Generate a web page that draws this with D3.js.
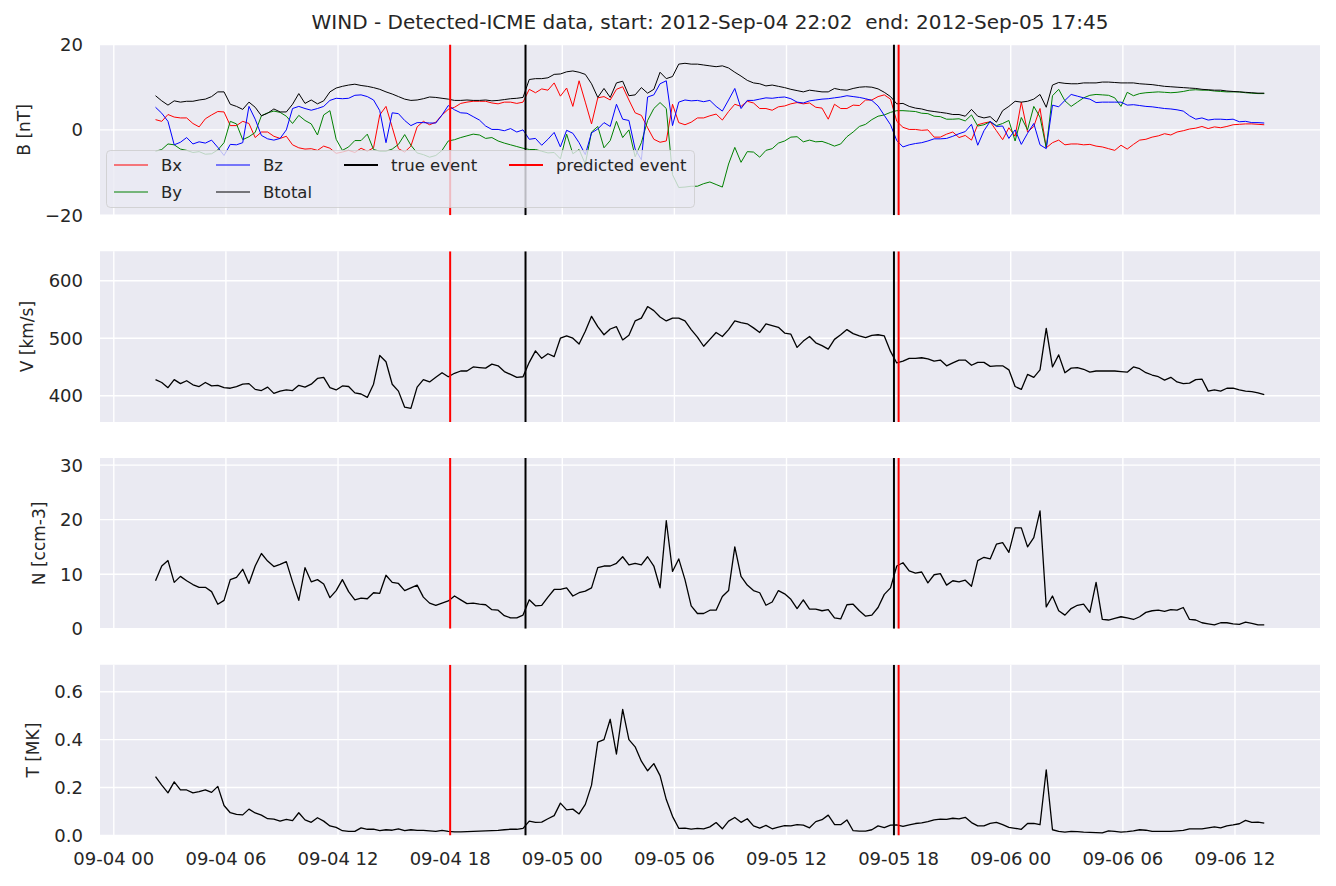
<!DOCTYPE html>
<html><head><meta charset="utf-8">
<script src="https://cdn.jsdelivr.net/npm/d3@7"></script>
<style>
html,body{margin:0;padding:0;background:#fff;}
svg{display:block;font-family:"DejaVu Sans",sans-serif;}
</style></head><body>
<svg id="chart" width="1336" height="886"></svg>
<script>
// ---- data (20-minute samples starting 2012-09-04 02:14 UTC) ----
const startTime = Date.UTC(2012, 8, 4, 2, 14);
const stepMinutes = 20;

const Bx = [2.4,2.0,3.6,3.0,2.8,2.8,1.5,0.7,2.6,3.5,
4.3,4.2,1.0,1.0,2.0,1.5,-1.8,-0.5,-0.5,-1.5,
-2.0,-1.5,-3.5,-4.2,-4.5,-4.4,-4.8,-3.8,-4.3,-5.5,
-5.2,-4.8,-5.3,-4.3,-5.0,-4.2,3.5,5.5,0.6,-4.4,
-5.2,-3.8,0.7,2.0,1.2,1.8,3.5,4.8,5.3,6.2,
6.5,6.7,6.7,6.7,6.3,6.1,6.5,6.5,6.2,6.5,
9.5,8.7,9.6,9.3,11.0,7.9,9.8,5.5,11.5,6.5,
1.4,7.5,7.8,7.0,9.5,10.1,7.0,4.0,3.4,0.5,
-2.2,-2.9,-2.6,6.0,1.7,1.2,1.8,2.8,2.8,3.3,
3.7,2.3,4.3,6.0,5.5,6.7,6.3,5.0,5.0,4.6,
5.4,5.6,6.1,6.4,6.1,6.3,5.3,5.1,2.5,6.0,
5.0,5.0,5.8,5.7,7.0,7.0,7.8,8.2,7.2,2.0,
0.6,0.1,0.1,-0.1,0.0,-1.7,-1.7,-1.0,-0.5,-1.8,
-1.3,-2.4,1.2,1.6,1.9,-0.2,-2.3,0.5,-1.5,6.5,
-0.5,0.8,5.0,-4.2,-3.0,-2.4,-3.5,-3.3,-3.3,-3.5,
-3.4,-3.8,-4.0,-4.4,-4.8,-3.6,-4.5,-3.4,-2.4,-2.2,
-1.7,-1.4,-0.9,-1.2,-0.5,-0.2,0.2,0.4,0.8,0.3,
0.7,0.5,0.8,1.2,1.3,1.4,1.4,1.3,1.2];

const By = [-5.0,-4.6,-3.3,-3.5,-4.5,-4.8,-5.3,-5.1,-5.7,-5.6,
-4.7,-3.0,2.0,1.4,-2.3,-1.6,-0.6,3.3,4.0,4.4,
4.1,3.2,1.5,3.4,2.2,1.4,-1.2,3.5,4.5,-2.2,
-4.8,-4.0,-2.5,-2.5,-1.0,-4.6,-5.0,-5.0,-4.5,-3.4,
-1.1,-3.6,-5.4,-5.8,-6.4,-6.0,-4.8,-2.6,-2.3,-1.8,
-1.4,-1.0,-1.2,-2.0,-1.8,-2.6,-3.1,-3.5,-3.9,-4.3,
-4.6,-4.6,-5.0,-5.4,-5.3,-6.8,-1.0,-5.6,-4.6,-8.0,
-0.5,0.8,-4.2,-2.5,2.0,-1.8,0.0,-6.3,-3.0,2.2,
5.0,6.4,5.0,-10.5,-13.5,-13.4,-13.2,-13.2,-12.6,-12.2,
-12.8,-13.4,-8.0,-4.1,-7.6,-5.1,-5.2,-6.4,-4.8,-4.4,
-3.1,-2.6,-1.7,-1.6,-2.8,-2.4,-2.8,-2.7,-3.2,-3.8,
-3.3,-1.6,-0.5,0.8,1.3,2.4,3.2,3.5,4.1,4.5,
4.5,4.4,4.3,3.9,3.8,3.2,3.1,2.5,2.5,2.6,
2.1,3.5,0.9,1.2,1.9,1.0,1.5,2.2,-2.6,2.9,
0.0,5.5,3.0,-4.2,8.0,9.5,6.8,5.5,6.5,7.5,
8.1,8.3,8.2,8.1,7.5,5.5,8.8,8.0,8.5,8.7,
8.8,8.9,8.8,8.7,8.8,9.0,9.3,9.4,9.3,9.3,
9.1,9.0,8.9,8.9,8.9,8.7,8.6,8.5,8.5];

const Bz = [5.3,3.9,2.0,-3.5,-2.9,-1.8,-3.3,-2.8,-3.1,-2.4,
-4.1,-6.0,-3.4,-3.5,-3.0,5.5,2.5,-1.3,-2.1,-2.4,
-2.0,0.0,5.0,5.5,5.0,4.6,5.0,5.5,6.9,7.4,
7.3,7.4,8.1,8.2,7.8,7.0,4.5,-3.0,4.0,3.8,
2.2,1.0,1.7,1.7,1.6,1.6,3.5,5.7,4.7,4.0,
3.9,3.1,2.3,0.9,0.1,0.1,-0.2,0.3,-0.5,0.0,
-2.2,-2.0,-3.6,-2.2,-0.6,-4.0,-0.1,-0.8,-3.0,-5.8,
-0.7,0.2,1.7,0.8,6.0,2.5,2.2,-4.5,-7.0,7.7,
8.2,10.8,11.5,1.0,6.5,7.0,6.8,6.9,6.6,6.9,
5.5,4.4,7.0,9.7,5.0,6.9,6.9,7.2,7.5,7.4,
7.6,7.7,7.3,6.5,6.3,6.8,7.0,7.2,7.3,7.5,
7.7,8.0,7.8,7.6,7.3,6.9,5.6,3.4,1.2,-2.5,
-4.0,-3.5,-3.2,-3.0,-2.6,-2.1,-2.1,-2.0,-1.5,-0.9,
-0.4,1.3,-3.6,-0.2,2.0,0.8,0.9,-2.0,0.0,-3.4,
-0.8,1.5,-3.5,-4.4,5.8,5.4,6.9,8.3,7.9,7.5,
7.2,6.4,6.5,6.5,6.5,6.5,5.8,5.9,5.7,5.5,
5.4,5.2,5.0,4.9,4.7,4.4,3.3,2.5,2.8,2.3,
2.5,2.5,2.4,2.5,1.9,2.0,1.7,1.7,1.6];

const Btotal = [8.0,6.8,5.8,6.8,6.5,6.7,6.7,7.0,7.2,7.8,
8.9,8.9,6.0,5.5,4.8,6.5,5.3,3.3,3.9,4.9,
4.2,4.2,6.0,8.5,6.2,7.0,6.1,6.8,8.9,9.8,
10.2,10.5,10.7,10.4,10.2,9.9,9.5,8.9,8.4,7.8,
7.2,6.9,7.0,7.3,7.7,7.6,7.4,7.2,6.9,6.9,
7.0,6.9,6.9,7.0,6.8,6.9,7.1,7.3,7.4,7.6,
11.8,12.0,12.0,12.2,13.0,13.1,13.6,13.8,13.5,13.0,
10.8,7.6,9.7,7.6,11.0,11.4,8.0,8.2,9.9,8.6,
9.5,13.5,12.0,12.5,15.4,15.6,15.4,15.4,15.2,15.0,
14.8,15.0,14.5,13.5,12.6,11.6,11.0,10.8,10.3,10.5,
10.2,9.9,9.5,9.2,8.9,9.3,9.1,8.9,8.9,9.7,
9.4,9.3,9.7,10.0,10.1,10.0,9.6,8.8,7.8,6.1,
6.2,5.5,5.1,4.9,4.5,4.3,4.1,3.9,3.6,3.6,
3.2,4.8,3.2,2.8,3.1,1.8,4.5,5.5,6.7,6.5,
6.7,7.2,8.3,5.3,10.5,11.1,10.9,10.8,10.8,11.0,
11.0,11.0,11.2,11.2,11.1,11.0,11.0,11.0,10.8,10.7,
10.6,10.4,10.2,10.1,10.0,9.9,9.8,9.7,9.5,9.4,
9.3,9.3,9.1,9.0,8.9,8.8,8.7,8.6,8.6];

const V = [428,423,414,428,421,426,419,416,423,417,
418,414,413,416,420,421,411,409,415,404,
408,410,409,418,415,420,430,432,414,410,
417,416,405,403,397,420,470,459,420,408,
380,378,415,428,424,432,440,433,439,443,
443,450,449,448,455,452,442,437,432,433,
458,478,465,473,468,500,504,500,490,512,
538,520,506,516,520,497,505,530,535,555,
548,537,530,535,535,530,515,502,486,498,
510,503,515,530,527,525,518,510,525,522,
519,509,507,484,495,503,492,487,481,498,
506,515,508,504,501,505,506,504,477,457,
460,465,465,466,464,460,462,452,457,462,
462,453,458,458,451,452,452,445,416,411,
437,432,445,517,450,471,440,448,449,446,
441,443,443,443,443,442,441,450,447,440,
436,433,427,432,424,421,422,428,429,408,
410,408,413,413,410,408,407,405,402];

const N = [8.8,11.5,12.5,8.5,9.6,8.8,8.1,7.6,7.6,6.8,
4.5,5.2,9.0,9.4,10.9,8.3,11.5,13.8,12.4,11.4,
11.8,12.3,8.6,5.2,11.2,8.6,9.0,8.2,5.7,7.0,
9.0,6.8,5.3,5.6,5.5,6.6,6.5,9.8,8.5,8.3,
7.0,7.5,8.0,5.8,4.7,4.3,4.7,5.1,6.0,5.3,
4.6,4.7,4.5,4.4,3.5,3.4,2.4,2.0,2.0,2.5,
5.3,4.2,4.3,5.8,7.2,7.2,7.5,6.0,6.6,6.9,
7.5,11.2,11.5,11.5,12.0,13.2,11.7,12.0,11.7,13.2,
11.5,7.5,19.8,10.5,12.8,9.0,4.2,2.8,2.8,3.4,
3.4,5.9,7.0,15.0,9.6,8.0,7.0,6.6,4.3,4.9,
7.0,6.4,5.4,3.7,5.3,3.6,3.6,3.3,3.5,2.0,
1.8,4.4,4.5,3.3,2.3,2.5,3.9,6.3,7.5,11.5,
12.1,10.6,10.2,10.4,8.4,9.9,10.1,8.0,8.8,8.6,
8.9,7.8,12.5,13.1,12.8,15.5,15.8,14.0,18.5,18.5,
15.0,16.7,21.6,4.0,6.0,3.3,2.5,3.7,4.3,4.5,
3.0,8.5,1.7,1.6,1.9,2.2,2.0,1.7,2.2,3.0,
3.3,3.4,3.2,3.5,3.4,3.9,1.7,1.6,1.1,0.9,
0.7,1.1,1.1,0.9,0.8,1.2,1.0,0.7,0.7];

const T = [0.246,0.21,0.178,0.224,0.19,0.19,0.178,0.183,0.19,0.18,
0.205,0.125,0.095,0.088,0.086,0.11,0.094,0.085,0.07,0.068,
0.06,0.067,0.062,0.095,0.065,0.055,0.074,0.06,0.04,0.034,
0.02,0.017,0.017,0.032,0.026,0.027,0.02,0.024,0.022,0.028,
0.02,0.024,0.021,0.021,0.019,0.017,0.021,0.017,0.015,0.015,
0.016,0.017,0.018,0.019,0.02,0.021,0.024,0.026,0.026,0.03,
0.06,0.055,0.056,0.07,0.083,0.135,0.107,0.11,0.09,0.13,
0.21,0.39,0.40,0.485,0.34,0.526,0.40,0.37,0.31,0.27,
0.30,0.25,0.15,0.08,0.03,0.031,0.027,0.03,0.028,0.036,
0.054,0.028,0.06,0.075,0.055,0.07,0.04,0.031,0.042,0.028,
0.035,0.041,0.04,0.045,0.043,0.032,0.058,0.066,0.085,0.046,
0.045,0.065,0.02,0.018,0.018,0.024,0.04,0.033,0.043,0.044,
0.038,0.044,0.05,0.053,0.058,0.065,0.068,0.067,0.072,0.069,
0.076,0.054,0.04,0.04,0.051,0.055,0.045,0.034,0.03,0.026,
0.05,0.051,0.045,0.274,0.024,0.017,0.014,0.017,0.016,0.014,
0.013,0.012,0.011,0.019,0.017,0.014,0.016,0.019,0.024,0.022,
0.017,0.017,0.017,0.017,0.019,0.021,0.028,0.028,0.028,0.032,
0.036,0.032,0.04,0.044,0.049,0.063,0.055,0.056,0.052];

const trueEvents = [Date.UTC(2012,8,4,22,2), Date.UTC(2012,8,5,17,45)];
const predictedEvents = [Date.UTC(2012,8,4,18,0), Date.UTC(2012,8,5,18,0)];

const bTicks = [-20, 0, 20];
const vTicks = [400, 500, 600];
const nTicks = [0, 10, 20, 30];
const tTicks = [0.0, 0.2, 0.4, 0.6];

const titleText = "WIND - Detected-ICME data, start: 2012-Sep-04 22:02  end: 2012-Sep-05 17:45";

// ---- layout ----
const W = 1336, H = 886;
const plotL = 100, plotR = 1320;
const panelH = 170.75, gap = 36, top0 = 44.5;
const bg = "#EAEAF2", txt = "#262626";
const tickFont = "18px";
const svg = d3.select("#chart");

const times = Bx.map((_, i) => new Date(startTime + i * stepMinutes * 60000));
const x = d3.scaleUtc()
  .domain([new Date(Date.UTC(2012,8,4,0,0) - 0.738*3600000), new Date(Date.UTC(2012,8,4,0,0) + 64.55*3600000)])
  .range([plotL, plotR]);
const xTicks = d3.utcHour.every(6).range(new Date(Date.UTC(2012,8,4,0,0)), new Date(Date.UTC(2012,8,6,13,0)));

const panels = [
  {label: "B [nT]", domain: [-20, 20], ticks: bTicks, fmt: d3.format("d"), labelX: 24,
   series: [{d: Bx, c: "red"}, {d: By, c: "green"}, {d: Bz, c: "blue"}, {d: Btotal, c: "black"}], lw: 1},
  {label: "V [km/s]", domain: [354.3, 651.2], ticks: vTicks, fmt: d3.format("d"), labelX: 27,
   series: [{d: V, c: "black"}], lw: 1.3},
  {label: "N [ccm-3]", domain: [0, 31.3], ticks: nTicks, fmt: d3.format("d"), labelX: 39,
   series: [{d: N, c: "black"}], lw: 1.3},
  {label: "T [MK]", domain: [0, 0.7125], ticks: tTicks, fmt: d3.format(".1f"), labelX: 33,
   series: [{d: T, c: "black"}], lw: 1.3}
];

svg.append("text").attr("x", (plotL + plotR) / 2).attr("y", 29)
  .attr("text-anchor", "middle").attr("fill", txt)
  .style("font-size", "20px").style("white-space", "pre").attr("xml:space", "preserve")
  .text(titleText);

panels.forEach((p, k) => {
  const top = top0 + k * (panelH + gap), bot = top + panelH;
  const y = d3.scaleLinear().domain(p.domain).range([bot, top]);
  const g = svg.append("g");
  g.append("rect").attr("x", plotL).attr("y", top).attr("width", plotR - plotL).attr("height", panelH).attr("fill", bg);
  const clipId = "clip" + k;
  svg.append("clipPath").attr("id", clipId).append("rect")
    .attr("x", plotL).attr("y", top).attr("width", plotR - plotL).attr("height", panelH);
  // grid
  g.selectAll(".vg").data(xTicks).join("line")
    .attr("x1", d => x(d)).attr("x2", d => x(d)).attr("y1", top).attr("y2", bot)
    .attr("stroke", "#fff").attr("stroke-width", 1.4);
  g.selectAll(".hg").data(p.ticks).join("line")
    .attr("x1", plotL).attr("x2", plotR).attr("y1", d => y(d)).attr("y2", d => y(d))
    .attr("stroke", "#fff").attr("stroke-width", 1.4);
  // y tick labels
  g.selectAll(".yt").data(p.ticks).join("text")
    .attr("x", 83).attr("y", d => y(d)).attr("dy", "0.36em")
    .attr("text-anchor", "end").attr("fill", txt).style("font-size", tickFont)
    .text(d => p.fmt(d));
  // axis label
  const cy = (top + bot) / 2;
  g.append("text").attr("transform", `translate(${p.labelX},${cy}) rotate(-90)`)
    .attr("text-anchor", "middle").attr("dy", "0.36em").attr("fill", txt).style("font-size", "17px").text(p.label);
  // data
  const dg = g.append("g").attr("clip-path", `url(#${clipId})`);
  p.series.forEach(s => {
    const line = d3.line().x((d, i) => x(times[i])).y(d => y(d));
    dg.append("path").datum(s.d).attr("d", line).attr("fill", "none")
      .attr("stroke", s.c).attr("stroke-width", p.lw).attr("stroke-linejoin", "round");
  });
  // event lines
  predictedEvents.forEach(t => dg.append("line").attr("x1", x(t)).attr("x2", x(t)).attr("y1", top).attr("y2", bot)
    .attr("stroke", "red").attr("stroke-width", 2));
  trueEvents.forEach(t => dg.append("line").attr("x1", x(t)).attr("x2", x(t)).attr("y1", top).attr("y2", bot)
    .attr("stroke", "black").attr("stroke-width", 2));
  // x tick labels on last panel
  if (k === panels.length - 1) {
    const fmt = d3.utcFormat("%m-%d %H");
    g.selectAll(".xt").data(xTicks).join("text")
      .attr("x", d => x(d)).attr("y", bot + 29).attr("text-anchor", "middle")
      .attr("fill", txt).style("font-size", tickFont).text(d => fmt(d));
  }
  // legend on first panel
  if (k === 0) {
    const lg = svg.append("g");
    lg.append("rect").attr("x", 106.5).attr("y", 150.5).attr("width", 588).attr("height", 57).attr("rx", 4)
      .attr("fill", bg).attr("fill-opacity", 0.8).attr("stroke", "#cccccc").attr("stroke-opacity", 0.8);
    const items = [
      {t: "Bx", c: "red", w: 1, x0: 114, row: 0},
      {t: "By", c: "green", w: 1, x0: 114, row: 1},
      {t: "Bz", c: "blue", w: 1, x0: 216, row: 0},
      {t: "Btotal", c: "black", w: 1, x0: 216, row: 1},
      {t: "true event", c: "black", w: 2, x0: 344, row: 0},
      {t: "predicted event", c: "red", w: 2, x0: 509, row: 0}
    ];
    items.forEach(it => {
      const yy = 165 + it.row * 27;
      lg.append("line").attr("x1", it.x0).attr("x2", it.x0 + 34).attr("y1", yy).attr("y2", yy)
        .attr("stroke", it.c).attr("stroke-width", it.w);
      lg.append("text").attr("x", it.x0 + 47).attr("y", yy).attr("dy", "0.36em")
        .attr("fill", txt).style("font-size", "16.5px").text(it.t);
    });
  }
});
</script>
</body></html>
